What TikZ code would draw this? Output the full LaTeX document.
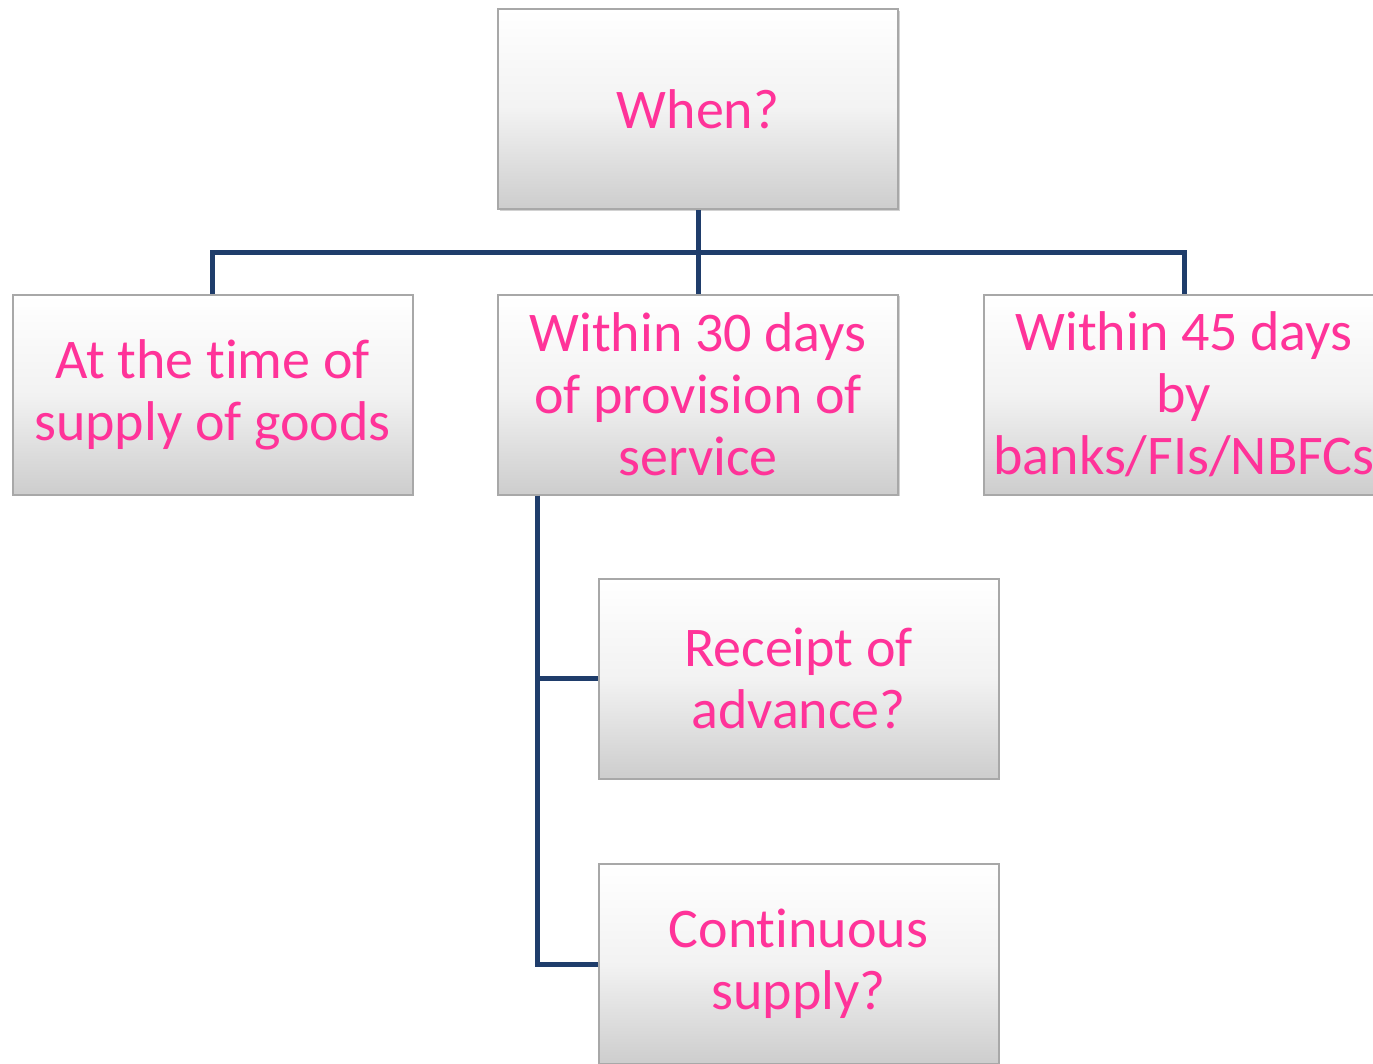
\documentclass[tikz,border=0pt]{standalone}
\usepackage{fontspec}
\setmainfont[Ligatures=NoCommon]{Carlito}
\usetikzlibrary{calc,shadows}
\definecolor{txtpink}{RGB}{255,51,153}
\definecolor{linknavy}{RGB}{31,61,107}
\definecolor{boxedge}{RGB}{168,168,168}
\definecolor{boxlow}{RGB}{205,205,205}
\tikzset{
  card/.style={draw=boxedge, line width=2pt,
    top color=white, bottom color=boxlow, middle color=white!95!black,
    shading angle=0,
    drop shadow={shadow xshift=1.5pt, shadow yshift=-1.5pt, opacity=0.35, fill=gray},
    minimum width=400pt, minimum height=200pt, inner sep=0pt,
    align=center, text=txtpink,
    font=\fontsize{56}{62}\selectfont},
  link/.style={draw=linknavy, line width=5pt}
}
\begin{document}
\begin{tikzpicture}[x=1pt,y=-1pt]
\useasboundingbox (0,0) rectangle (1373,1063);
\fill[white] (0,0) rectangle (1373,1063);
\node[card] (when) at (698,109) {When?};
\node[card] (goods) at (212.5,394.5) {At the time of\\supply of goods};
\node[card] (serv) at (698,394.5) {Within 30 days\\of provision of\\service};
\node[card] (banks) at (1184,394.5) {Within 45 days\\by\\banks/FIs/NBFCs};
\node[card] (adv) at (798.5,678.5) {Receipt of\\advance?};
\node[card] (cont) at (798.5,964) {Continuous\\supply?};
\coordinate (bus) at (698,252);
\coordinate (drop) at ($(serv.south west)+(40,0)$);
\draw[link] (when.south) -- (serv.north);
\draw[link] (bus) -| (goods.north);
\draw[link] (bus) -| (banks.north);
\draw[link] (drop) |- (adv.west);
\draw[link] (drop) |- (cont.west);
\end{tikzpicture}
\end{document}
